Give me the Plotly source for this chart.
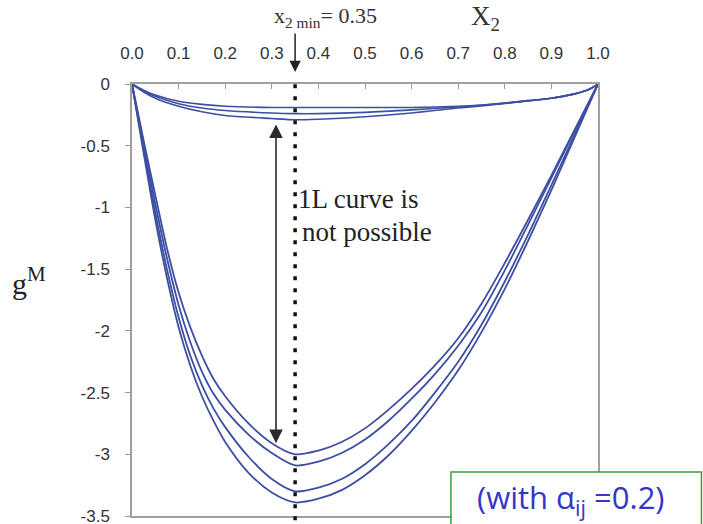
import plotly.graph_objects as go

# ---------------- data ----------------
x_big = [0, 0.025, 0.05, 0.075, 0.1, 0.125, 0.15, 0.175, 0.2, 0.25, 0.3, 0.35,
         0.4, 0.45, 0.5, 0.55, 0.6, 0.65, 0.7, 0.75, 0.8, 0.85, 0.9, 0.95, 1.0]
g_big1 = [0, -0.46, -0.9, -1.33, -1.69, -1.97, -2.2, -2.39, -2.53, -2.75, -2.91, -3.0,
          -2.97, -2.9, -2.79, -2.64, -2.47, -2.28, -2.06, -1.78, -1.45, -1.1, -0.74, -0.37, 0]
g_big2 = [0, -0.49, -0.97, -1.41, -1.79, -2.09, -2.33, -2.51, -2.64, -2.84, -2.99, -3.09,
          -3.06, -2.99, -2.88, -2.73, -2.55, -2.35, -2.12, -1.85, -1.51, -1.14, -0.76, -0.38, 0]
g_big3 = [0, -0.53, -1.04, -1.5, -1.89, -2.2, -2.44, -2.63, -2.78, -3.02, -3.2, -3.3,
          -3.27, -3.2, -3.08, -2.92, -2.73, -2.5, -2.25, -1.95, -1.6, -1.22, -0.82, -0.41, 0]
g_big4 = [0, -0.56, -1.1, -1.57, -1.97, -2.28, -2.53, -2.73, -2.9, -3.15, -3.31, -3.39,
          -3.36, -3.29, -3.17, -3.01, -2.81, -2.58, -2.32, -2.01, -1.66, -1.27, -0.86, -0.43, 0]

x_small = [0, 0.025, 0.05, 0.1, 0.15, 0.2, 0.3, 0.35, 0.4, 0.5, 0.6, 0.7, 0.75,
           0.8, 0.85, 0.9, 0.95, 0.98, 1.0]
g_small1 = [0, -0.05, -0.09, -0.14, -0.165, -0.18, -0.19, -0.19, -0.19, -0.19, -0.19,
            -0.18, -0.17, -0.155, -0.135, -0.115, -0.08, -0.045, 0]
g_small2 = [0, -0.06, -0.1, -0.16, -0.195, -0.215, -0.235, -0.24, -0.24, -0.23, -0.21,
            -0.185, -0.172, -0.155, -0.135, -0.115, -0.08, -0.045, 0]
g_small3 = [0, -0.065, -0.115, -0.18, -0.225, -0.255, -0.28, -0.29, -0.285, -0.265, -0.235,
            -0.195, -0.178, -0.158, -0.137, -0.115, -0.08, -0.045, 0]

x_ticks = [0.0, 0.1, 0.2, 0.3, 0.4, 0.5, 0.6, 0.7, 0.8, 0.9, 1.0]
x_ticktext = ["0.0", "0.1", "0.2", "0.3", "0.4", "0.5", "0.6", "0.7", "0.8", "0.9", "1.0"]
y_ticks = [0, -0.5, -1, -1.5, -2, -2.5, -3, -3.5]
y_ticktext = ["0", "-0.5", "-1", "-1.5", "-2", "-2.5", "-3", "-3.5"]

x2_min = 0.35
arrow_x = 0.309
arrow_top = -0.316
arrow_bottom = -2.91

# ---------------- figure ----------------
LINE = "#3d4fa3"
SERIF = "Liberation Serif, Times New Roman, serif"
fig = go.Figure()
for g in [g_big1, g_big2, g_big3, g_big4]:
    fig.add_trace(go.Scatter(x=x_big, y=g, mode="lines",
                             line=dict(color=LINE, width=1.8, shape="spline", smoothing=0.8),
                             showlegend=False, hoverinfo="skip"))
for g in [g_small1, g_small2, g_small3]:
    fig.add_trace(go.Scatter(x=x_small, y=g, mode="lines",
                             line=dict(color=LINE, width=1.6, shape="spline", smoothing=0.8),
                             showlegend=False, hoverinfo="skip"))

# dotted vertical line at x2 min
fig.add_shape(type="line", xref="x", yref="paper", x0=x2_min, x1=x2_min, y0=-0.01, y1=1,
              line=dict(color="#111111", width=3.5, dash="4px,8px"), layer="above")

# double-headed arrow
fig.add_annotation(x=arrow_x, y=arrow_bottom, ax=arrow_x, ay=arrow_top, xref="x", yref="y",
                   axref="x", ayref="y", text="", showarrow=True, arrowhead=2, startarrowhead=2,
                   arrowside="end+start", arrowsize=1.7, startarrowsize=1.7, arrowwidth=1.6,
                   arrowcolor="#2a2a2a", standoff=0, startstandoff=0)

# arrow from x2 min label
fig.add_annotation(x=x2_min, y=1.028, xref="x", yref="paper", ax=0, ay=-40, text="",
                   showarrow=True, arrowhead=2, arrowsize=1.5, arrowwidth=1.5,
                   arrowcolor="#222222", standoff=0)

fig.add_annotation(x=0.3, y=1.155, xref="paper", yref="paper", xanchor="left", yanchor="middle",
                   text="x<sub>2 min</sub>= 0.35", showarrow=False,
                   font=dict(family=SERIF, size=22, color="#333333"))
fig.add_annotation(x=0.758, y=1.152, xref="paper", yref="paper", xanchor="center", yanchor="middle",
                   text="X<sub>2</sub>", showarrow=False,
                   font=dict(family=SERIF, size=27, color="#333333"))

fig.add_annotation(x=0.354, y=-0.93, xref="x", yref="y", xanchor="left", yanchor="middle", align="left",
                   text="1L curve is", showarrow=False, borderpad=0,
                   font=dict(family=SERIF, size=27, color="#222222"))
fig.add_annotation(x=0.362, y=-1.195, xref="x", yref="y", xanchor="left", yanchor="middle", align="left",
                   text="not possible", showarrow=False, borderpad=0,
                   font=dict(family=SERIF, size=27, color="#222222"))

fig.add_annotation(x=-0.22, y=-1.6, xref="paper", yref="y", xanchor="center", yanchor="middle",
                   text="g<sup>M</sup>", showarrow=False,
                   font=dict(family=SERIF, size=30, color="#222222"))

# green framed note
fig.add_shape(type="rect", xref="paper", yref="paper", x0=0.6845, x1=1.222, y0=-0.05, y1=0.102,
              line=dict(color="#3aa03a", width=1.5), fillcolor="white", layer="above")
fig.add_annotation(x=0.942, y=0.04, xref="paper", yref="paper", xanchor="center", yanchor="middle",
                   text="(with \u03b1<sub>ij</sub> =0.2)", showarrow=False,
                   font=dict(family="Comic Sans MS, Open Sans, sans-serif", size=31, color="#3535c8"))

fig.update_layout(
    width=703, height=524,
    margin=dict(l=132, r=105, t=84, b=8, autoexpand=False),
    paper_bgcolor="white", plot_bgcolor="white",
    xaxis=dict(range=[0, 1], side="top", tickvals=x_ticks, ticktext=x_ticktext,
               ticks="inside", ticklen=5, tickcolor="#999999", tickwidth=1,
               showline=True, linecolor="#a0a0a0", linewidth=1.5, mirror=True,
               showgrid=False, zeroline=False, ticklabelstandoff=16, automargin=False,
               ticklabeloverflow="allow",
               tickfont=dict(family="Liberation Sans, Arial, sans-serif", size=17, color="#333333")),
    yaxis=dict(range=[-3.5, 0], tickvals=y_ticks, ticktext=y_ticktext,
               ticks="outside", ticklen=5, tickcolor="#999999", tickwidth=1,
               showline=True, linecolor="#a0a0a0", linewidth=1.5, mirror=True,
               showgrid=False, zeroline=False, ticklabelstandoff=12, automargin=False,
               ticklabeloverflow="allow",
               tickfont=dict(family="Liberation Sans, Arial, sans-serif", size=17, color="#333333")),
)

fig.write_html("out.html")
